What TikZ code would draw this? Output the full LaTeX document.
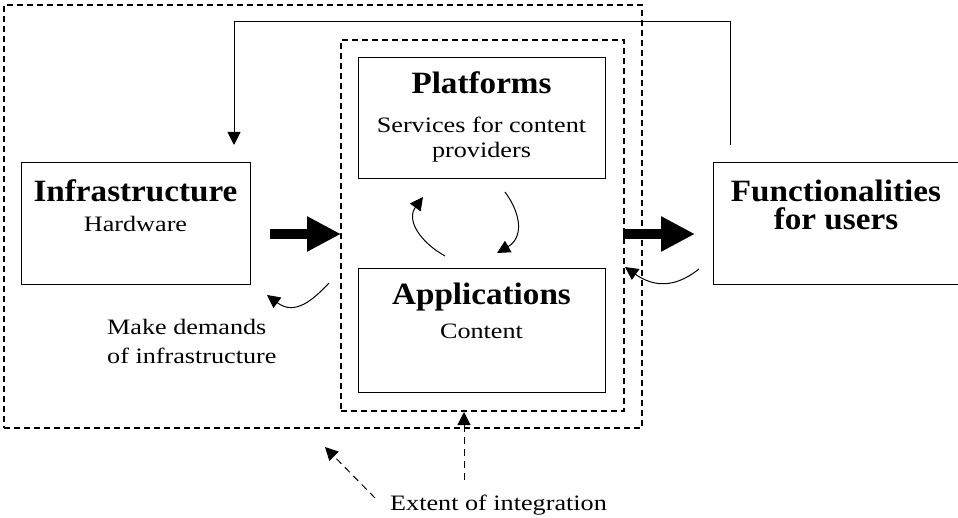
\documentclass[tikz,border=0pt]{standalone}
\usepackage{fontspec}
\setmainfont[FakeStretch=1.19]{Liberation Serif}
\newfontfamily\bfam[FakeStretch=1.07]{Liberation Serif}
\usetikzlibrary{arrows.meta}
\begin{document}
\begin{tikzpicture}[x=1pt,y=-1pt,
  box/.style={draw, line width=1pt, inner sep=0pt},
  region/.style={draw, line width=1.6pt, dash pattern=on 6pt off 4pt, inner sep=0pt},
  title/.style={font=\bfam\bfseries\fontsize{31}{31}\selectfont, anchor=base, inner sep=0pt},
  sub/.style={font=\fontsize{22}{26}\selectfont, anchor=base, inner sep=0pt},
  conn/.style={line width=1pt, -{Triangle[length=13pt,width=13pt]}},
  dconn/.style={line width=1pt, dash pattern=on 7pt off 5pt, -{Triangle[length=13pt,width=13pt]}},
  bigarrow/.style={line width=10pt, -{Triangle[length=34pt,width=33pt]}}]
\useasboundingbox (0,0) rectangle (958,518);
% regions
\node[region, minimum width=638pt, minimum height=423pt] (outer) at (323,216.5) {};
\node[region, minimum width=283pt, minimum height=371pt] (inner) at (482.5,225.5) {};
% boxes
\node[box, minimum width=229pt, minimum height=122pt] (infra) at (135.5,224) {};
\node[box, minimum width=247pt, minimum height=121pt] (plat) at (481.5,118.5) {};
\node[box, minimum width=247pt, minimum height=123pt] (apps) at (481.5,330.5) {};
\node[box, minimum width=260pt, minimum height=122pt] (func) at (843,224) {};
% texts
\node[title] (infraT) at (135.5,202) {Infrastructure};
\node[sub] (infraS) at (135.5,232) {Hardware};
\node[title] (platT) at (481.5,94) {Platforms};
\node[sub] (platS1) at (481.5,133) {Services for content};
\node[sub] (platS2) at (481.5,158) {providers};
\node[title] (appsT) at (481.5,305) {Applications};
\node[sub] (appsS) at (481.5,338) {Content};
\node[title] (funcT1) at (836,202) {Functionalities};
\node[title] (funcT2) at (836,230) {for users};
\node[sub, anchor=base west] (dem1) at (107,335) {Make demands};
\node[sub, anchor=base west] (dem2) at (107,363) {of infrastructure};
\node[sub, anchor=base west] (ext) at (390,510) {Extent of integration};
% coordinates
\coordinate (fbs) at (730,145);
\coordinate (fbe) at (234,145);
\coordinate (ta1s) at (270,234);
\coordinate (ta1e) at (341,234);
\coordinate (ta2s) at (623,234);
\coordinate (ta2e) at (695,234);
\coordinate (c1s) at (505,192);
\coordinate (c1e) at (497,253);
\coordinate (c2s) at (445,256);
\coordinate (c2e) at (423,197);
\coordinate (c3s) at (329,283);
\coordinate (c3e) at (267,295);
\coordinate (c4s) at (699,269);
\coordinate (c4e) at (625,267);
\coordinate (d1s) at (375,498);
\coordinate (d1e) at (325,447);
\coordinate (d2s) at (464,480);
\coordinate (d2e) at (464,412);
% connectors
\draw[conn] (fbs) -- (730,22) -- (234,22) -- (fbe);
\draw[bigarrow] (ta1s) -- (ta1e);
\draw[bigarrow] (ta2s) -- (ta2e);
\draw[conn] (c1s) .. controls (522,215) and (523,238) .. (c1e);
\draw[conn] (c2s) .. controls (420,242) and (406,220) .. (c2e);
\draw[conn] (c3s) .. controls (313,300) and (295,316) .. (c3e);
\draw[conn] (c4s) .. controls (685,280) and (662,293) .. (c4e);
\draw[dconn] (d1s) -- (d1e);
\draw[dconn] (d2s) -- (d2e);
\end{tikzpicture}
\end{document}
